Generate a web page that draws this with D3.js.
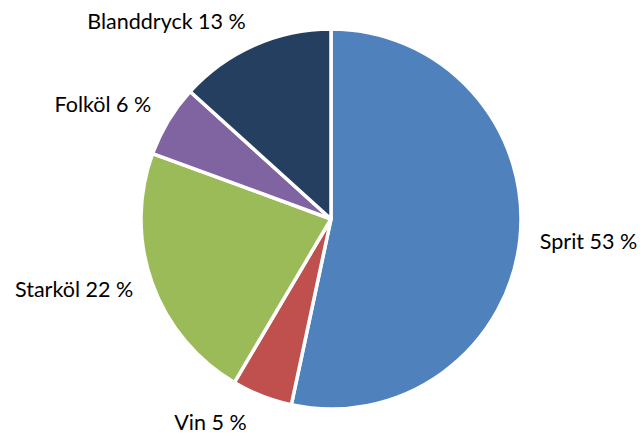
<!DOCTYPE html>
<html>
<head>
<meta charset="utf-8">
<script src="https://cdn.jsdelivr.net/npm/d3@7"></script>
<style>
  body { margin: 0; background: #fff; }
  text { font-family: Lato, "Open Sans", sans-serif; font-size: 21.5px; fill: #000; }
</style>
</head>
<body>
<div id="chart"></div>
<script>
var categories = ["Sprit", "Vin", "Starköl", "Folköl", "Blanddryck"];
var values = [53.35, 5.15, 22.1, 6.1, 13.3];
var labels = ["53 %", "5 %", "22 %", "6 %", "13 %"];
var colors = ["#4F81BD", "#C0504D", "#9BBB59", "#8064A2", "#243F60"];

var width = 641, height = 437,
  cx = 331, cy = 219, radius = 190;

var svg = d3.select("#chart").append("svg")
  .attr("width", width).attr("height", height);

var g = svg.append("g").attr("transform", "translate(" + cx + "," + cy + ")");

var data = categories.map(function (c, i) {
  return {name: c, value: values[i], label: labels[i], color: colors[i]};
});

var pie = d3.pie().sort(null).value(function (d) { return d.value; });
var arc = d3.arc().innerRadius(0).outerRadius(radius);

var arcs = pie(data);

g.selectAll(".slice")
  .data(arcs)
  .enter().append("path")
  .attr("class", "slice")
  .attr("d", arc)
  .attr("fill", function (d) { return d.data.color; })
  .attr("stroke", "#fff")
  .attr("stroke-width", 3.5)
  .attr("stroke-linejoin", "round");

// labels outside the pie, anchored by side
var labelR = radius + 20;
g.selectAll(".lbl")
  .data(arcs)
  .enter().append("text")
  .attr("class", "lbl")
  .attr("x", function (d) {
    var a = (d.startAngle + d.endAngle) / 2;
    var x = labelR * Math.sin(a);
    return -labelR * Math.cos(a) > radius * 0.9 ? x - 8 : x;
  })
  .attr("y", function (d) {
    var a = (d.startAngle + d.endAngle) / 2;
    var y = -labelR * Math.cos(a);
    if (y > radius * 0.9) return y + 8;
    if (y < -radius * 0.3) return y - 6;
    return y;
  })
  .attr("dy", "0.35em")
  .style("text-anchor", function (d) {
    var a = (d.startAngle + d.endAngle) / 2;
    return a < Math.PI ? "start" : "end";
  })
  .text(function (d) { return d.data.name + " " + d.data.label; });
</script>
</body>
</html>
